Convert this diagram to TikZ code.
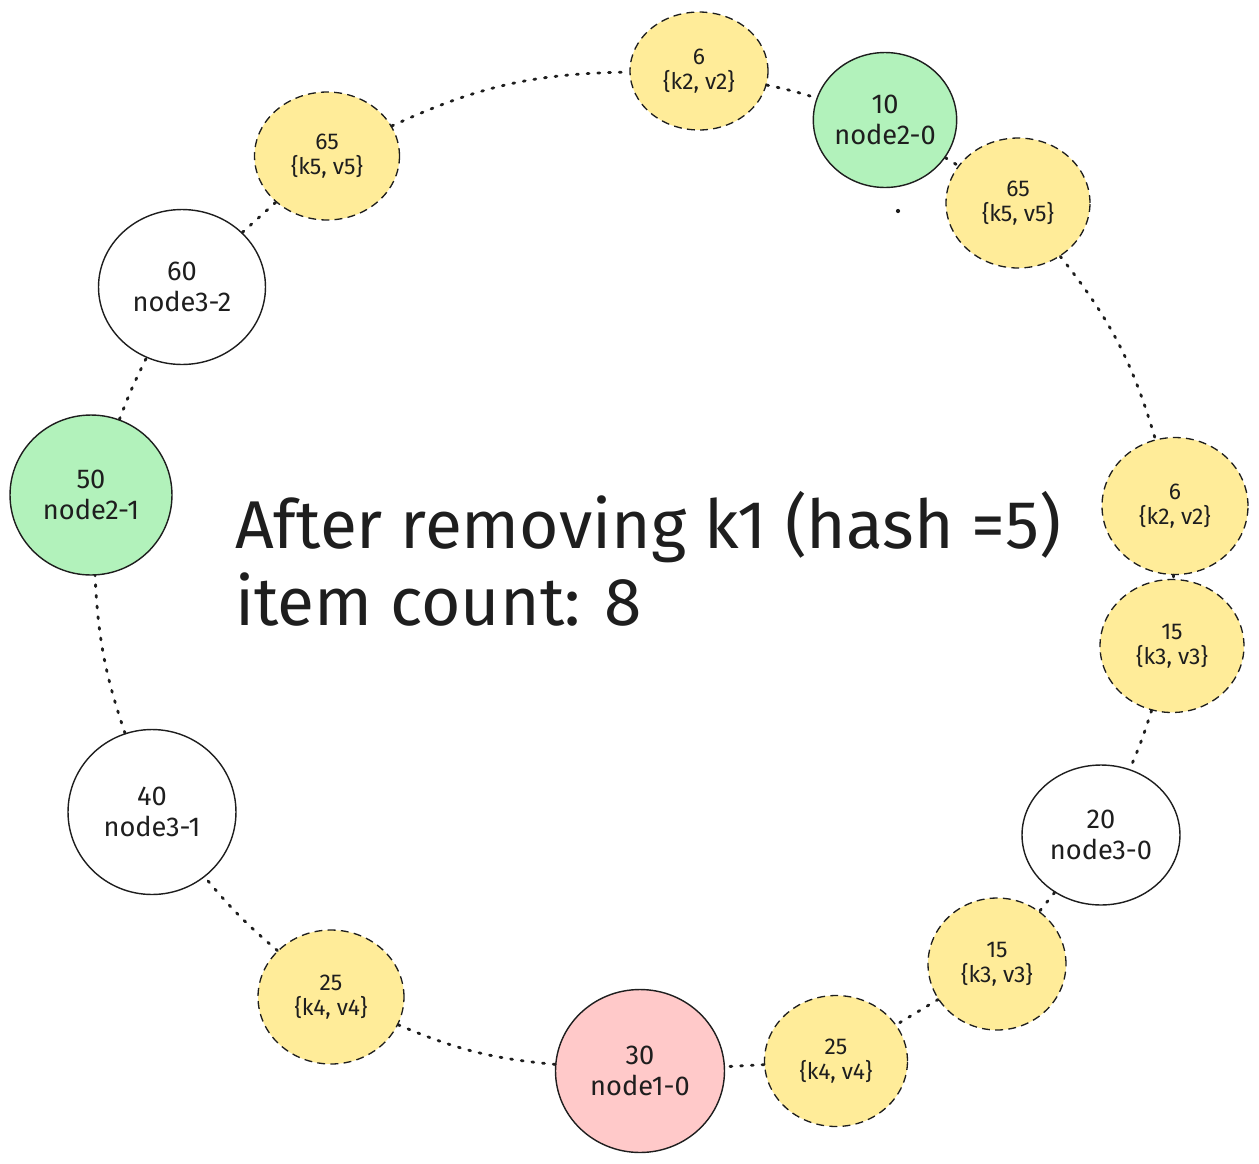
\documentclass[tikz,border=0pt]{standalone}
\usepackage{fontspec}
\setmainfont{Fira Sans}
\usetikzlibrary{shapes.geometric}
\definecolor{keyyellow}{RGB}{255,236,153}
\definecolor{vnodegreen}{RGB}{178,242,187}
\definecolor{vnodered}{RGB}{255,201,201}
\definecolor{inkblack}{RGB}{30,30,30}

\tikzset{
  sized/.style 2 args={minimum width=#1cm, minimum height=#2cm},
  vnode/.style={ellipse, draw=inkblack, line width=0.8pt, inner sep=0pt,
    align=center, text=inkblack, font=\fontsize{15.5}{18}\selectfont},
  keynode/.style={ellipse, draw=inkblack, fill=keyyellow, line width=0.75pt,
    dash pattern=on 4.5pt off 3pt, inner sep=0pt,
    align=center, text=inkblack, font=\fontsize{13}{14.5}\selectfont},
  ringlink/.style={draw=inkblack, line width=1.6pt, line cap=round,
    dash pattern=on 1.1pt off 5pt},
  caption/.style={anchor=base west, text=inkblack, font=\fontsize{38.5}{42}\selectfont}
}

\begin{document}
\begin{tikzpicture}[x=0.02cm, y=-0.02cm]
  \useasboundingbox (0,0) rectangle (1259,1164);

  % virtual nodes on the ring
  \node[vnode, fill=vnodegreen, sized={2.72}{2.70}] (node20) at (885,120) {10\\node2-0};
  \node[vnode, fill=white, sized={3.16}{2.80}] (node30) at (1101,835) {20\\node3-0};
  \node[vnode, fill=vnodered, sized={3.38}{3.26}] (node10) at (640,1071) {30\\node1-0};
  \node[vnode, fill=white, sized={3.36}{3.30}] (node31) at (152,812) {40\\node3-1};
  \node[vnode, fill=vnodegreen, sized={3.24}{3.20}] (node21) at (91,495) {50\\node2-1};
  \node[vnode, fill=white, sized={3.34}{3.10}] (node32) at (182,287) {60\\node3-2};

  % stored keys
  \node[keynode, sized={2.76}{2.36}] (keytop6) at (699,71) {6\\\{k2, v2\}};
  \node[keynode, sized={2.88}{2.60}] (keyright65) at (1018,203) {65\\\{k5, v5\}};
  \node[keynode, sized={2.92}{2.74}] (keyright6) at (1175,506) {6\\\{k2, v2\}};
  \node[keynode, sized={2.88}{2.66}] (keyright15) at (1172,646) {15\\\{k3, v3\}};
  \node[keynode, sized={2.76}{2.64}] (keylow15) at (997,964) {15\\\{k3, v3\}};
  \node[keynode, sized={2.86}{2.62}] (keylow25) at (836,1061) {25\\\{k4, v4\}};
  \node[keynode, sized={2.92}{2.68}] (keyleft25) at (331,997) {25\\\{k4, v4\}};
  \node[keynode, sized={2.90}{2.56}] (keytop65) at (327,156) {65\\\{k5, v5\}};

  % the ring, clockwise
  \draw[ringlink] (keytop65) to[bend left=12] (keytop6);
  \draw[ringlink] (keytop6) to[bend left=3] (node20);
  \draw[ringlink] (node20) to (keyright65);
  \draw[ringlink] (keyright65) to[bend left=11] (keyright6);
  \draw[ringlink] (keyright6) to (keyright15);
  \draw[ringlink] (keyright15) to[bend left=3] (node30);
  \draw[ringlink] (node30) to (keylow15);
  \draw[ringlink] (keylow15) to (keylow25);
  \draw[ringlink] (keylow25) to (node10);
  \draw[ringlink] (node10) to[bend left=9] (keyleft25);
  \draw[ringlink] (keyleft25) to[bend left=5] (node31);
  \draw[ringlink] (node31) to[bend left=8] (node21);
  \draw[ringlink] (node21) to[bend left=3] (node32);
  \draw[ringlink] (node32) to (keytop65);
  \fill[inkblack] (898,211) circle (1.2pt);

  \node[caption] (caption1) at (229,548) {After removing k1 (hash =5)};
  \node[caption] (caption2) at (229,625) {item count: 8};
\end{tikzpicture}
\end{document}
